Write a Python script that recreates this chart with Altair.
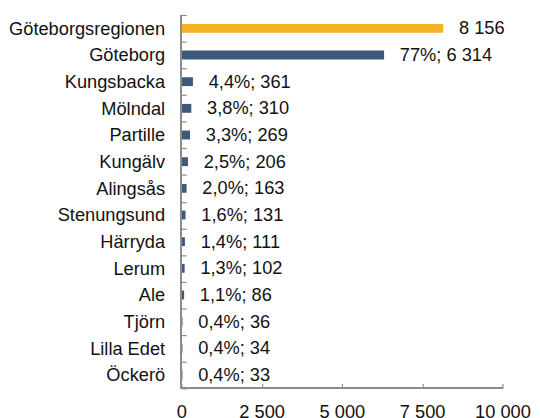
import altair as alt
import pandas as pd

categories = ["Göteborgsregionen", "Göteborg", "Kungsbacka", "Mölndal", "Partille",
              "Kungälv", "Alingsås", "Stenungsund", "Härryda", "Lerum", "Ale",
              "Tjörn", "Lilla Edet", "Öckerö"]
values = [8156, 6314, 361, 310, 269, 206, 163, 131, 111, 102, 86, 36, 34, 33]
shares = ["", "77%", "4,4%", "3,8%", "3,3%", "2,5%", "2,0%", "1,6%", "1,4%",
          "1,3%", "1,1%", "0,4%", "0,4%", "0,4%"]
groups = ["region"] + ["kommun"] * 13
x_ticks = [0, 2500, 5000, 7500, 10000]


def fmt(v):
    return f"{v:,}".replace(",", " ")


labels = [fmt(v) if not s else f"{s}; {fmt(v)}" for s, v in zip(shares, values)]

df = pd.DataFrame({"kategori": categories, "antal": values,
                   "grupp": groups, "etikett": labels})

W, H = 326, 379
FONT = "Liberation Sans"
GRAY = "#8c8c8c"
FS = 18.5

y = alt.Y("kategori:N", sort=categories, title=None,
          scale=alt.Scale(paddingInner=0, paddingOuter=0),
          axis=alt.Axis(offset=-5, tickSize=5, tickBand="extent", domain=False,
                        tickColor=GRAY, tickWidth=1.2, labelPadding=17,
                        labelFontSize=FS, labelFont=FONT, labelColor="#111",
                        labelLimit=400))
x = alt.X("antal:Q", title=None,
          scale=alt.Scale(domain=[0, 10000], nice=False),
          axis=alt.Axis(values=x_ticks, offset=-5, tickSize=5, domain=False,
                        grid=False, tickColor=GRAY, tickWidth=1.2,
                        labelExpr="replace(format(datum.value, ',d'), ',', ' ')",
                        labelPadding=15, labelFontSize=FS, labelFont=FONT,
                        labelColor="#111", labelFlush=False))

base = alt.Chart(df)

ydomain = base.mark_rule(color=GRAY, strokeWidth=1.3).encode(x=alt.datum(0))
xdomain = base.mark_rule(color=GRAY, strokeWidth=1.3).encode(y=alt.value(H))

bars = base.mark_bar(size=9).encode(
    x=x, y=y,
    color=alt.Color("grupp:N",
                    scale=alt.Scale(domain=["region", "kommun"],
                                    range=["#F5B222", "#3D5A7E"]),
                    legend=None),
)

text = base.mark_text(align="left", baseline="middle", dx=16, fontSize=FS,
                      font=FONT, color="#111").encode(
    x="antal:Q", y=alt.Y("kategori:N", sort=categories), text="etikett:N")

chart = alt.layer(bars, text, ydomain, xdomain).properties(
    width=W, height=H,
    padding={"left": 176, "top": 4, "right": 30, "bottom": 27},
    autosize=alt.AutoSizeParams(type="none"),
).configure_view(stroke=None)

chart.save("out.html", embed_options={"renderer": "svg", "actions": False})
